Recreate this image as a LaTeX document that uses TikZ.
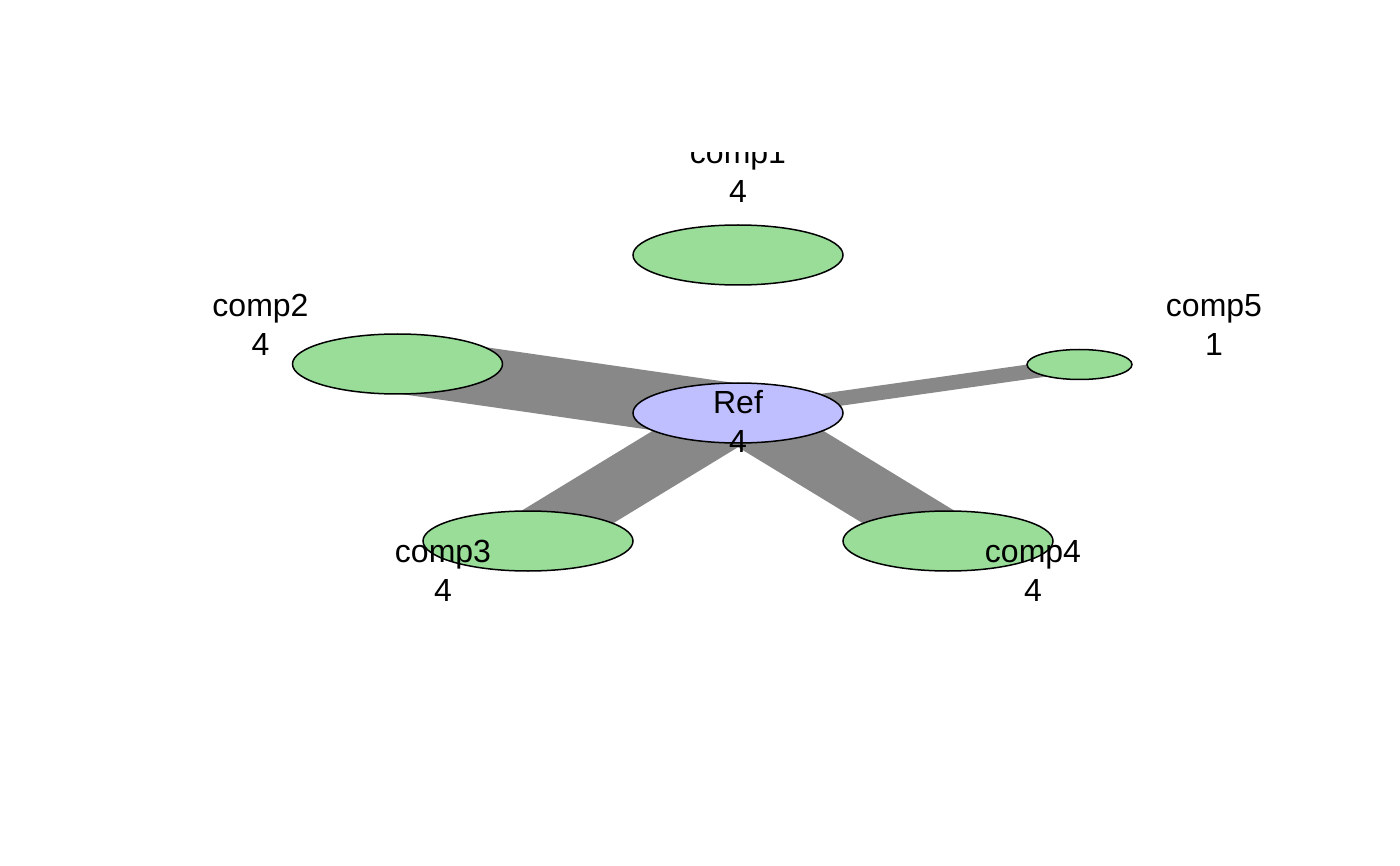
\documentclass[tikz,border=0pt]{standalone}
\usepackage{fontspec}
\setmainfont{Liberation Sans}
\usetikzlibrary{shapes.geometric}
\definecolor{vgreen}{RGB}{153,221,153}
\definecolor{vblue}{RGB}{191,191,255}
\definecolor{egray}{RGB}{136,136,136}
\tikzset{
  vert/.style={ellipse, draw=black, line width=1.5pt, inner sep=0pt,
    minimum width=210pt, minimum height=60pt},
  small/.style={minimum width=105pt, minimum height=30pt},
  lab/.style={align=center, inner sep=0pt, font=\fontsize{32}{39}\selectfont},
  edge/.style={draw=egray, line cap=butt}
}
\begin{document}
\begin{tikzpicture}[x=1pt,y=-1pt]
\useasboundingbox (0,0) rectangle (1400,866);
\begin{scope}
\clip (0,153) rectangle (1400,866);
% vertex positions
\coordinate (pref) at (738,413);
\coordinate (p1) at (738,255);
\coordinate (p2) at (397.5,364);
\coordinate (p3) at (528,541);
\coordinate (p4) at (948,541);
\coordinate (p5) at (1079.5,364.5);
% edges
\draw[edge, line width=58.4pt] (pref) -- (p2);
\draw[edge, line width=58.4pt] (pref) -- (p3);
\draw[edge, line width=58.4pt] (pref) -- (p4);
\draw[edge, line width=14.6pt] (pref) -- (p5);
% vertices
\node[vert, fill=vgreen] (comp1) at (p1) {};
\node[vert, fill=vgreen] (comp2) at (p2) {};
\node[vert, fill=vgreen] (comp3) at (p3) {};
\node[vert, fill=vgreen] (comp4) at (p4) {};
\node[vert, small, fill=vgreen] (comp5) at (p5) {};
\node[vert, fill=vblue] (ref) at (pref) {};
% labels
\node[lab] (l1) at (738,172) {comp1\\4};
\node[lab] (l2) at (260.5,325) {comp2\\4};
\node[lab] (l5) at (1214,325) {comp5\\1};
\node[lab] (lref) at (738,421) {Ref\\4};
\node[lab] (l3) at (443,571) {comp3\\4};
\node[lab] (l4) at (1033,571) {comp4\\4};
\end{scope}
\end{tikzpicture}
\end{document}
